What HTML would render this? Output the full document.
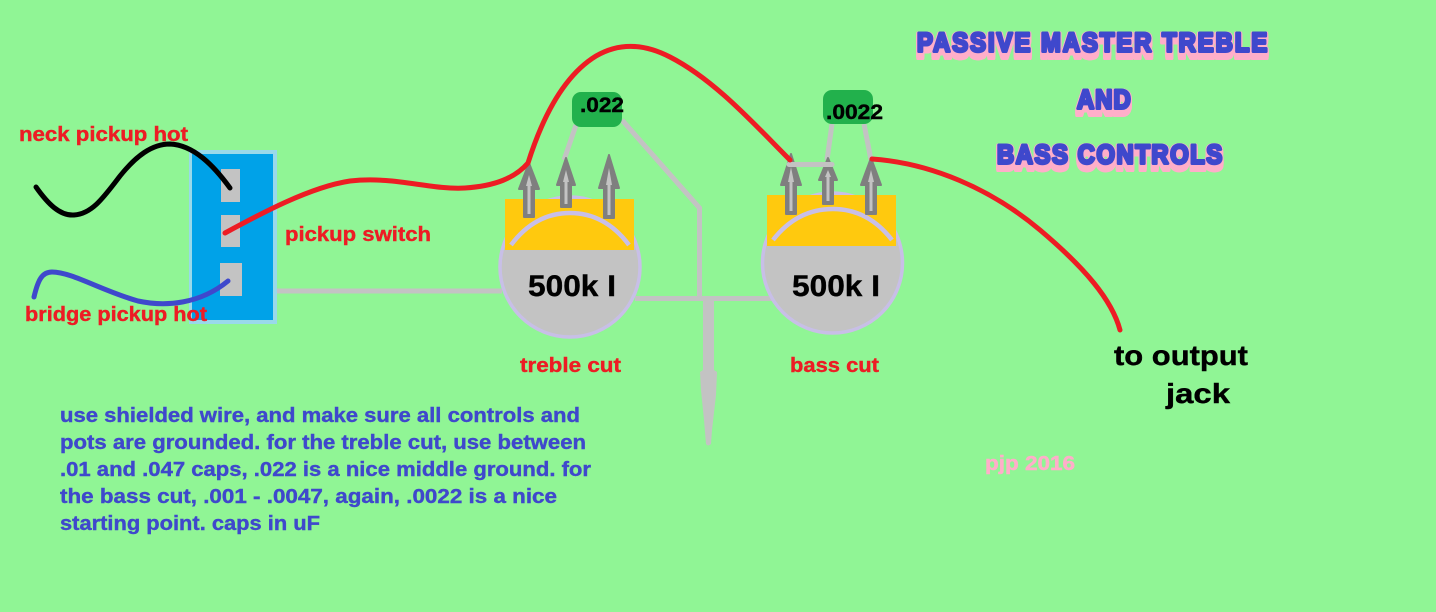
<!DOCTYPE html>
<html><head><meta charset="utf-8"><style>
html,body{margin:0;padding:0;background:#90f595}
svg{display:block}
text{font-family:"Liberation Sans",sans-serif;font-weight:bold}
</style></head><body>
<svg width="1436" height="612" viewBox="0 0 1436 612" xmlns="http://www.w3.org/2000/svg">
<rect width="1436" height="612" fill="#90f595"/>

<!-- gray wires -->
<g fill="none" stroke="#c3c3c3" stroke-width="5">
<path d="M274 291H502"/>
<path d="M635 298.500H772"/>
<path d="M622 120L699.500 208V298"/>
<path d="M576 125L564 160"/>
<path d="M832 124L827 160"/>
<path d="M864 124L871 160"/>
</g>
<path d="M703 298H714V370L717 372L716 395L712 430L711 444Q708 447 706 444L704 420L701 390L700 372L703 370Z" fill="#c3c3c3"/>

<!-- switch -->
<rect x="189" y="150" width="88" height="174" fill="#99d9ea"/>
<rect x="192" y="154" width="81" height="166" fill="#00a2e8"/>
<rect x="221" y="169" width="19" height="33" fill="#c3c3c3"/>
<rect x="221" y="215" width="19" height="32" fill="#c3c3c3"/>
<rect x="220" y="263" width="22" height="33" fill="#c3c3c3"/>

<!-- treble pot -->
<circle cx="570" cy="267" r="70" fill="#c3c3c3" stroke="#c8bfe7" stroke-width="3.500"/>
<rect x="505" y="199" width="129" height="51" fill="#ffc90e"/>
<path d="M511 245Q535 213 570 213Q605 213 629 245" fill="none" stroke="#c8bfe7" stroke-width="4.500"/>
<!-- bass pot -->
<circle cx="832.500" cy="263" r="70" fill="#c3c3c3" stroke="#c8bfe7" stroke-width="3.500"/>
<rect x="767" y="195" width="129" height="51" fill="#ffc90e"/>
<path d="M773 240Q797 209 833 209Q868 209 892 240" fill="none" stroke="#c8bfe7" stroke-width="4.500"/>

<!-- lug arrows: outer -->
<g fill="#7f7f7f" stroke="#7f7f7f" stroke-width="2" stroke-linejoin="round">
<path d="M529 163L529 163L539 189H534V217H524V189H519Z"/>
<path d="M566 158L575 185H571V207H561V185H557Z"/>
<path d="M609 155L619 188H614V218H604V188H599Z"/>
<path d="M791 154L801 185H796V214H786V185H781Z"/>
<path d="M828 158L837 180H833V204H823V180H819Z"/>
<path d="M871 158L881 185H876V214H866V185H861Z"/>
</g>
<!-- lug arrows: inner -->
<g fill="#c3c3c3">
<path d="M529 175L532 186H530.500V214H527.500V186H526Z"/>
<path d="M566 170L569 182H567.500V204H564.500V182H563Z"/>
<path d="M609 168L612 185H610.500V215H607.500V185H606Z"/>
<path d="M791 167L794 182H792.500V211H789.500V182H788Z"/>
<path d="M828 170L831 177H829.500V201H826.500V177H825Z"/>
<path d="M871 170L874 182H872.500V211H869.500V182H868Z"/>
</g>
<path d="M789 164.500H832" stroke="#c3c3c3" stroke-width="5" stroke-linecap="round" fill="none"/>

<!-- caps -->
<rect x="572" y="92" width="50" height="35" rx="9" fill="#22b14c"/>
<rect x="823" y="90" width="50" height="34" rx="9" fill="#22b14c"/>

<!-- coloured wires -->
<g fill="none" stroke-linecap="round" stroke-linejoin="round" stroke-width="5">
<path d="M36 187C48 204 60 216 74 215C92 214 104 197 120 176C136 156 152 144 170 144C194 145 214 166 230 188" stroke="#000"/>
<path d="M34 297C38 280 42 272 52 272C72 272 102 291 138 301C166 307 200 304 228 281" stroke="#3f48cc"/>
<path d="M225 233C260 214 310 187 350 181C395 176 430 190 465 188C495 186 515 178 528 163C540 125 560 78 596 56C620 42 645 44 670 57C715 80 755 125 790 160" stroke="#ed1c24"/>
<path d="M872 159C930 163 990 188 1040 230C1085 268 1112 300 1120 330" stroke="#ed1c24"/>
</g>

<!-- black labels -->
<g fill="#000" stroke="#000" stroke-width="0.400">
<text x="580" y="112" font-size="21" textLength="44" lengthAdjust="spacingAndGlyphs">.022</text>
<text x="826" y="119" font-size="21" textLength="57" lengthAdjust="spacingAndGlyphs">.0022</text>
<text x="528" y="296" font-size="30" textLength="88" lengthAdjust="spacingAndGlyphs">500k I</text>
<text x="792" y="296" font-size="30" textLength="88" lengthAdjust="spacingAndGlyphs">500k I</text>
<text x="1114" y="365" font-size="28" textLength="134" lengthAdjust="spacingAndGlyphs">to output</text>
<text x="1166" y="403" font-size="28" textLength="64" lengthAdjust="spacingAndGlyphs">jack</text>
</g>

<!-- red labels -->
<g font-size="20" fill="#ed1c24" stroke="#ed1c24" stroke-width="0.400">
<text x="19" y="141" textLength="169" lengthAdjust="spacingAndGlyphs">neck pickup hot</text>
<text x="25" y="321" textLength="182" lengthAdjust="spacingAndGlyphs">bridge pickup hot</text>
<text x="285" y="241" textLength="146" lengthAdjust="spacingAndGlyphs">pickup switch</text>
<text x="520" y="372" textLength="101" lengthAdjust="spacingAndGlyphs">treble cut</text>
<text x="790" y="372" textLength="89" lengthAdjust="spacingAndGlyphs">bass cut</text>
</g>

<!-- notes -->
<g font-size="20" fill="#3f48cc" stroke="#3f48cc" stroke-width="0.400">
<text x="60" y="422" textLength="520" lengthAdjust="spacingAndGlyphs">use shielded wire, and make sure all controls and</text>
<text x="60" y="449" textLength="526" lengthAdjust="spacingAndGlyphs">pots are grounded. for the treble cut, use between</text>
<text x="60" y="476" textLength="531" lengthAdjust="spacingAndGlyphs">.01 and .047 caps, .022 is a nice middle ground. for</text>
<text x="60" y="503" textLength="497" lengthAdjust="spacingAndGlyphs">the bass cut, .001 - .0047, again, .0022 is a nice</text>
<text x="60" y="530" textLength="260" lengthAdjust="spacingAndGlyphs">starting point. caps in uF</text>
</g>

<!-- title -->
<g style="filter:drop-shadow(1px 0 0 #ffaec9) drop-shadow(-1px 0 0 #ffaec9) drop-shadow(0 2px 0 #ffaec9) drop-shadow(0 2px 0 #ffaec9) drop-shadow(0 2px 0 #ffaec9) drop-shadow(0 1px 0 #ffaec9)">
<g font-size="27" fill="#3f48cc" stroke="#3f48cc" stroke-width="3" stroke-linejoin="round">
<text transform="translate(917 51.500) scale(.88 1)" textLength="398" lengthAdjust="spacing">PASSIVE MASTER TREBLE</text>
<text transform="translate(1077 108.500) scale(.88 1)" textLength="61" lengthAdjust="spacing">AND</text>
<text transform="translate(997 163.500) scale(.88 1)" textLength="256" lengthAdjust="spacing">BASS CONTROLS</text>
</g>
</g>

<text x="985" y="470" font-size="20" fill="#ffaec9" stroke="#ffaec9" stroke-width="0.500" textLength="90" lengthAdjust="spacingAndGlyphs">pjp 2016</text>
</svg>
</body></html>
